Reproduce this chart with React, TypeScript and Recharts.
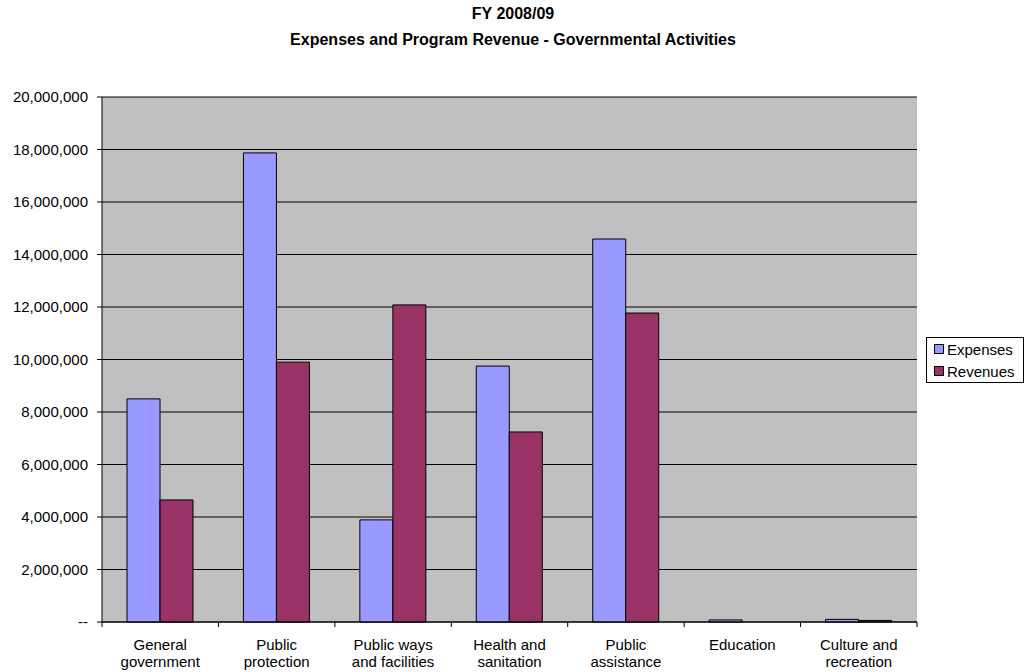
import { Bar, BarChart, CartesianGrid, XAxis, YAxis } from 'recharts';

const FONT = '"Liberation Sans", Arial, sans-serif';

const categories = [
  'General government',
  'Public protection',
  'Public ways and facilities',
  'Health and sanitation',
  'Public assistance',
  'Education',
  'Culture and recreation',
];
const expenses = [8500000, 17870000, 3890000, 9750000, 14590000, 80000, 100000];
const revenues = [4650000, 9900000, 12080000, 7240000, 11770000, 0, 60000];
const yTicks = [0, 2000000, 4000000, 6000000, 8000000, 10000000, 12000000, 14000000, 16000000, 18000000, 20000000];

const seriesColors = { Expenses: '#9999FF', Revenues: '#993366' };

const data = categories.map((name, i) => ({ name, Expenses: expenses[i], Revenues: revenues[i] }));

const W = 1026;
const H = 672;
const M = { top: 97, right: 109, bottom: 0, left: 0 };
const X_H = 50;
const Y_W = 102;
const PLOT_W = W - Y_W - M.right;
const BAND = PLOT_W / categories.length;

function wrap(label: string, max = 14) {
  const lines: string[] = [];
  let cur = '';
  for (const w of label.split(' ')) {
    const next = cur ? cur + ' ' + w : w;
    if (next.length > max && cur) {
      lines.push(cur);
      cur = w;
    } else cur = next;
  }
  if (cur) lines.push(cur);
  return lines;
}

function XTick(props: any) {
  const { x, y, payload, index } = props;
  const lines = wrap(String(payload.value));
  const left = x - BAND / 2;
  return (
    <g>
      <line x1={left} y1={y} x2={left} y2={y + 5} stroke="#000" />
      {index === categories.length - 1 && (
        <line x1={x + BAND / 2} y1={y} x2={x + BAND / 2} y2={y + 5} stroke="#000" />
      )}
      {lines.map((l, i) => (
        <text key={i} x={x} y={y + 28 + i * 17} textAnchor="middle" fontSize={15} fill="#000" fontFamily={FONT}>
          {l}
        </text>
      ))}
    </g>
  );
}

function LegendBox() {
  return (
    <div
      style={{
        position: 'absolute',
        left: 926,
        top: 337,
        width: 98,
        border: '1px solid #000',
        background: '#fff',
        padding: '0 0 0 7px',
        boxSizing: 'border-box',
        fontFamily: FONT,
        fontSize: 15,
      }}
    >
      {Object.entries(seriesColors).map(([name, color]) => (
        <div key={name} style={{ display: 'flex', alignItems: 'center', height: 22 }}>
          <span
            style={{ width: 8, height: 8, background: color, border: '1px solid #000', marginRight: 3 }}
          />
          <span>{name}</span>
        </div>
      ))}
    </div>
  );
}

export default function App() {
  return (
    <div style={{ position: 'absolute', left: 0, top: 0, width: W, height: H, background: '#fff' }}>
      <BarChart
        width={W}
        height={H}
        data={data}
        margin={M}
        barCategoryGap={25}
        barGap={0}
        style={{ position: 'absolute', left: 0, top: 0 }}
      >
        <CartesianGrid vertical={false} stroke="#000" fill="#C0C0C0" fillOpacity={1} />
        <XAxis
          dataKey="name"
          axisLine={{ stroke: '#000' }}
          tickLine={false}
          tickSize={0}
          tickMargin={0}
          tick={<XTick />}
          interval={0}
          height={X_H}
        />
        <YAxis
          width={Y_W}
          domain={[0, 20000000]}
          ticks={yTicks}
          interval={0}
          axisLine={{ stroke: '#000' }}
          tickLine={{ stroke: '#000' }}
          tickSize={5}
          tickMargin={9}
          tickFormatter={(v: number) => (v === 0 ? '--' : v.toLocaleString('en-US'))}
          tick={{ fill: '#000', fontSize: 15, fontFamily: FONT }}
        />
        <Bar dataKey="Expenses" fill={seriesColors.Expenses} stroke="#000" strokeWidth={1} isAnimationActive={false} />
        <Bar dataKey="Revenues" fill={seriesColors.Revenues} stroke="#000" strokeWidth={1} isAnimationActive={false} />
      </BarChart>
      <div
        style={{
          position: 'absolute',
          left: 0,
          top: 1,
          width: W,
          textAlign: 'center',
          fontFamily: FONT,
          fontWeight: 'bold',
          fontSize: 16,
          lineHeight: '26px',
        }}
      >
        <div>FY 2008/09</div>
        <div>Expenses and Program Revenue - Governmental Activities</div>
      </div>
      <LegendBox />
    </div>
  );
}
